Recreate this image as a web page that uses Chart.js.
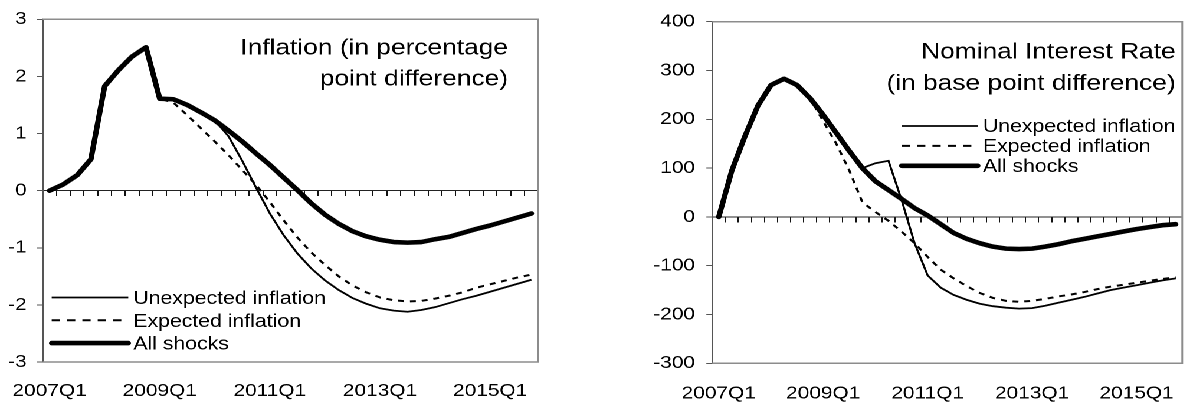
<!DOCTYPE html>
<html><head><meta charset="utf-8">
<script src="https://cdn.jsdelivr.net/npm/chart.js@4.4.1/dist/chart.umd.min.js"></script>
<style>
html,body{margin:0;padding:0;background:#fff;overflow:hidden;width:1185px;height:405px}
#stage{position:absolute;left:0;top:0;width:1004.24px;height:405px;transform:scaleX(1.18);transform-origin:0 0}
.box{position:absolute;top:0;height:405px}
#b1{left:0;width:470px}
#b2{left:500px;width:504.24px}
</style></head><body>
<div id="stage">
  <div class="box" id="b1"><canvas id="c1"></canvas></div>
  <div class="box" id="b2"><canvas id="c2"></canvas></div>
</div>
<script>
// ---------- data ----------
const quarters = ['2007Q1','2007Q2','2007Q3','2007Q4','2008Q1','2008Q2','2008Q3','2008Q4',
  '2009Q1','2009Q2','2009Q3','2009Q4','2010Q1','2010Q2','2010Q3','2010Q4',
  '2011Q1','2011Q2','2011Q3','2011Q4','2012Q1','2012Q2','2012Q3','2012Q4',
  '2013Q1','2013Q2','2013Q3','2013Q4','2014Q1','2014Q2','2014Q3','2014Q4',
  '2015Q1','2015Q2','2015Q3','2015Q4'];
const labelEvery = 8;
const seriesNames = ['Unexpected inflation', 'Expected inflation', 'All shocks'];

const inflUnexpected = [0, 0.11, 0.27, 0.55, 1.83, 2.11, 2.35, 2.51, 1.61, 1.60, 1.50, 1.37, 1.23, 0.95, 0.52, 0.05,
  -0.40, -0.78, -1.10, -1.36, -1.57, -1.74, -1.88, -1.98, -2.06, -2.10, -2.12, -2.09, -2.04, -1.97, -1.90, -1.84,
  -1.77, -1.70, -1.63, -1.56];
const inflExpected = [0, 0.11, 0.27, 0.55, 1.83, 2.11, 2.35, 2.51, 1.61, 1.54, 1.32, 1.09, 0.86, 0.62, 0.36, 0.10,
  -0.20, -0.52, -0.82, -1.08, -1.30, -1.50, -1.66, -1.78, -1.87, -1.92, -1.94, -1.93, -1.89, -1.84, -1.78, -1.70,
  -1.64, -1.58, -1.52, -1.47];
const inflAll = [0, 0.11, 0.27, 0.55, 1.83, 2.11, 2.35, 2.51, 1.61, 1.60, 1.50, 1.37, 1.23, 1.05, 0.86, 0.65,
  0.45, 0.23, 0.01, -0.22, -0.42, -0.58, -0.71, -0.80, -0.86, -0.90, -0.91, -0.90, -0.85, -0.81, -0.74, -0.67,
  -0.61, -0.54, -0.47, -0.40];

const rateUnexpected = [0, 95, 165, 228, 270, 283, 270, 243, 209, 172, 135, 100, 110, 115, 35, -54,
  -120, -145, -160, -170, -178, -183, -186, -188, -187, -182, -176, -170, -164, -157, -150, -145,
  -140, -135, -130, -126];
const rateExpected = [0, 95, 165, 228, 270, 283, 270, 243, 196, 150, 95, 30, 10, -8, -30, -54,
  -82, -108, -126, -142, -156, -166, -172, -174, -172, -168, -163, -159, -154, -148, -143, -139,
  -135, -131, -127, -124];
const rateAll = [0, 95, 165, 228, 270, 283, 270, 243, 209, 172, 135, 100, 73, 55, 37, 18,
  3, -15, -33, -45, -54, -61, -65, -66, -65, -61, -56, -50, -45, -40, -35, -30,
  -25, -21, -17, -15];

const inflTitle = ['Inflation (in percentage', 'point difference)'];
const rateTitle = ['Nominal Interest Rate', '(in base point difference)'];
const inflAxis = [-3, 3, 1];
const rateAxis = [-300, 400, 100];

// ---------- rendering ----------
const FONT = "'Liberation Sans', Arial, sans-serif";
Chart.defaults.font.family = FONT;
Chart.defaults.color = '#000';

const framePlugin = {
  id: 'frame',
  beforeDatasetsDraw(chart) {
    const {ctx, chartArea: a} = chart;
    ctx.save();
    ctx.strokeStyle = '#8c8c8c';
    ctx.lineWidth = 1.5;
    ctx.beginPath();
    ctx.moveTo(a.left, a.top);
    ctx.lineTo(a.right, a.top);
    ctx.lineTo(a.right, a.bottom);
    ctx.lineTo(a.left, a.bottom);
    ctx.stroke();
    ctx.restore();
  }
};

const panelTitlePlugin = {
  id: 'panelTitle',
  afterDatasetsDraw(chart, args, o) {
    const {ctx, chartArea: a} = chart;
    ctx.save();
    ctx.font = o.size + 'px ' + FONT;
    ctx.fillStyle = '#000';
    ctx.textAlign = 'right';
    ctx.textBaseline = 'alphabetic';
    o.lines.forEach((t, i) => ctx.fillText(t, a.right - o.dx, a.top + o.y[i]));
    ctx.restore();
  }
};

const boxLegendPlugin = {
  id: 'boxLegend',
  afterDatasetsDraw(chart, args, o) {
    const {ctx, chartArea: a} = chart;
    ctx.save();
    chart.data.datasets.forEach((ds, i) => {
      const y = a.top + o.y0 + i * o.dy;
      ctx.beginPath();
      ctx.strokeStyle = ds.borderColor;
      ctx.lineWidth = ds.borderWidth;
      ctx.lineCap = ds.borderWidth > 3 ? 'round' : 'butt';
      ctx.setLineDash(ds.borderDash && ds.borderDash.length ? o.dash : []);
      ctx.moveTo(a.left + o.x0, y);
      ctx.lineTo(a.left + o.x1, y);
      ctx.stroke();
      ctx.setLineDash([]);
      ctx.font = o.size + 'px ' + FONT;
      ctx.fillStyle = '#000';
      ctx.textAlign = 'left';
      ctx.textBaseline = 'middle';
      ctx.fillText(ds.label, a.left + o.tx, y + o.ty);
    });
    ctx.restore();
  }
};

function makeDatasets(unexp, exp, all) {
  return [
    {label: seriesNames[0], data: unexp, borderColor: '#000', borderWidth: 1.8, borderDash: [], order: 2},
    {label: seriesNames[1], data: exp, borderColor: '#000', borderWidth: 2, borderDash: [5, 5], order: 1},
    {label: seriesNames[2], data: all, borderColor: '#000', borderWidth: 4.6, borderDash: [], order: 0,
     borderJoinStyle: 'round', borderCapStyle: 'round'}
  ].map(d => Object.assign({pointRadius: 0, pointHoverRadius: 0, tension: 0, fill: false, xAxisID: 'x', yAxisID: 'y'}, d));
}

function makeChart(id, cfg) {
  return new Chart(document.getElementById(id), {
    type: 'line',
    data: {labels: quarters, datasets: makeDatasets(...cfg.series)},
    options: {
      responsive: true,
      maintainAspectRatio: false,
      animation: false,
      devicePixelRatio: 2,
      events: [],
      layout: {padding: {top: cfg.top, right: cfg.right, left: 0, bottom: 0}},
      scales: {
        x: {
          type: 'category', position: 'bottom', offset: true,
          grid: {display: false, drawTicks: false},
          border: {display: false},
          ticks: {autoSkip: false, maxRotation: 0, minRotation: 0, padding: cfg.xPad,
            font: {size: 17.7}, color: '#000',
            callback: (v, i) => (i % labelEvery === 0 ? quarters[i] : '')},
          afterFit: s => { s.height = cfg.xHeight; s.paddingLeft = 0; s.paddingRight = 0; }
        },
        xz: {
          type: 'category', axis: 'x', position: {y: 0}, offset: true,
          grid: {offset: true, drawOnChartArea: false, drawTicks: true, tickLength: 5, color: '#111', lineWidth: 1},
          border: {display: true, color: '#222', width: 1},
          ticks: {display: false, autoSkip: false},
          afterFit: s => { s.paddingLeft = 0; s.paddingRight = 0; }
        },
        y: {
          type: 'linear', position: 'left',
          min: cfg.axis[0], max: cfg.axis[1],
          ticks: {stepSize: cfg.axis[2], padding: cfg.yPad, font: {size: 17.7}, color: '#000'},
          grid: {drawOnChartArea: false, drawTicks: true, tickLength: 5, color: '#555'},
          border: {display: true, color: '#555', width: 1.5},
          afterFit: s => { s.width = cfg.yWidth; }
        }
      },
      plugins: {
        legend: {display: false},
        tooltip: {enabled: false},
        panelTitle: cfg.title,
        boxLegend: cfg.legend
      }
    },
    plugins: [framePlugin, panelTitlePlugin, boxLegendPlugin]
  });
}

makeChart('c1', {
  series: [inflUnexpected, inflExpected, inflAll],
  axis: inflAxis,
  top: 19.3, right: 13.8, xHeight: 43, yWidth: 36.2, xPad: 18.5, yPad: 8.6,
  title: {lines: inflTitle, size: 22.3, dx: 25.7, y: [35, 66]},
  legend: {x0: 7.6, x1: 72.5, tx: 76.8, y0: 278.2, dy: 22.8, ty: 1.5, size: 18, dash: [7, 6]}
});

makeChart('c2', {
  series: [rateUnexpected, rateExpected, rateAll],
  axis: rateAxis,
  top: 21.7, right: 1.44, xHeight: 41.7, yWidth: 103.6, xPad: 19.5, yPad: 9.6,
  title: {lines: rateTitle, size: 22.3, dx: 5.6, y: [36.6, 68.3]},
  legend: {x0: 160.6, x1: 225, tx: 229.4, y0: 104.3, dy: 19.9, ty: 1, size: 18, dash: [7, 6]}
});
</script>
</body></html>
